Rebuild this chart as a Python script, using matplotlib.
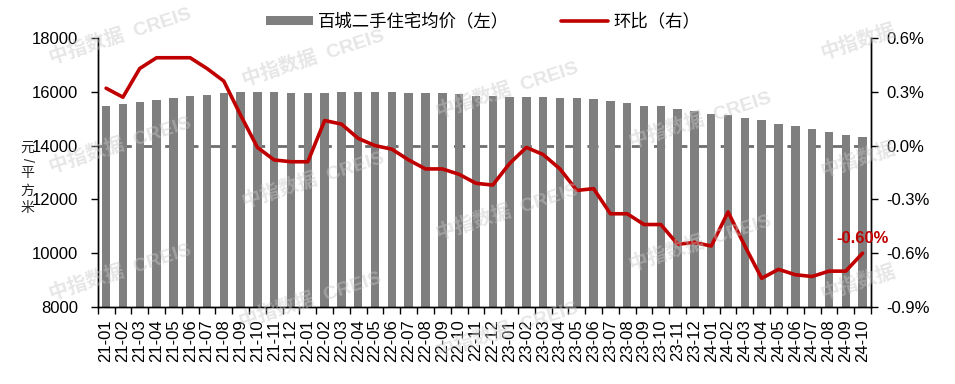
import matplotlib
matplotlib.use('Agg')
import matplotlib.pyplot as plt
from matplotlib.ticker import FuncFormatter, FixedLocator

plt.rcParams['font.family'] = ['Liberation Sans', 'Noto Sans CJK SC']
plt.rcParams['axes.unicode_minus'] = False

months = ['21-01', '21-02', '21-03', '21-04', '21-05', '21-06', '21-07', '21-08', '21-09', '21-10', '21-11', '21-12',
          '22-01', '22-02', '22-03', '22-04', '22-05', '22-06', '22-07', '22-08', '22-09', '22-10', '22-11', '22-12',
          '23-01', '23-02', '23-03', '23-04', '23-05', '23-06', '23-07', '23-08', '23-09', '23-10', '23-11', '23-12',
          '24-01', '24-02', '24-03', '24-04', '24-05', '24-06', '24-07', '24-08', '24-09', '24-10']

# 百城二手住宅均价 (元/平方米)
price = [15480, 15540, 15630, 15680, 15770, 15850, 15900, 15950, 15990, 16000, 16000, 15960,
         15960, 15960, 15990, 15990, 15990, 15990, 15960, 15960, 15960, 15910, 15860, 15860,
         15800, 15800, 15800, 15770, 15770, 15720, 15640, 15590, 15490, 15460, 15360, 15270,
         15170, 15120, 15040, 14950, 14810, 14720, 14630, 14490, 14410, 14310]

# 环比 (%)
mom = [0.32, 0.27, 0.43, 0.49, 0.49, 0.49, 0.43, 0.36, 0.17, -0.01, -0.08, -0.09,
       -0.09, 0.14, 0.12, 0.04, 0.00, -0.02, -0.08, -0.13, -0.13, -0.16, -0.21, -0.22,
       -0.10, -0.01, -0.05, -0.13, -0.25, -0.24, -0.38, -0.38, -0.44, -0.44, -0.55, -0.54,
       -0.56, -0.37, -0.56, -0.74, -0.69, -0.72, -0.73, -0.70, -0.70, -0.60]

bar_color = '#7f7f7f'
line_color = '#c00000'

fig = plt.figure(figsize=(9.55, 3.84), dpi=100)
ax = fig.add_axes([0.1023, 0.2005, 0.8097, 0.7005])
ax2 = ax.twinx()

x = range(len(months))
bars = ax.bar(x, price, width=0.5, color=bar_color, zorder=2)
ax.axhline(14000, color='#6e6e6e', lw=2, ls=(0, (4, 4)), zorder=1)
ax.set_ylim(8000, 18000)
ax.set_yticks(range(8000, 18001, 2000))
ax.set_xlim(-0.5, len(months) - 0.5)
ax.set_xticks(list(x))
ax.set_xticklabels(months, rotation=90, fontsize=12)
ax.xaxis.set_minor_locator(FixedLocator([i - 0.5 for i in range(len(months) + 1)]))
ax.tick_params(axis='x', which='major', length=0, pad=9)
ax.tick_params(axis='x', which='minor', length=5, width=1, direction='out')
ax.tick_params(axis='y', labelsize=12, length=5, width=1, direction='out', pad=9)

line, = ax2.plot(x, mom, color=line_color, lw=2.6, solid_joinstyle='round', solid_capstyle='round')
ax2.set_ylim(-0.9, 0.6)
ax2.set_yticks([-0.9, -0.6, -0.3, 0.0, 0.3, 0.6])
ax2.yaxis.set_major_formatter(FuncFormatter(lambda v, p: '%.1f%%' % v))
ax2.tick_params(axis='y', labelsize=12, length=5, width=1, direction='out', pad=6)

for a in (ax, ax2):
    a.spines['top'].set_visible(False)
    for s in ('left', 'right', 'bottom'):
        a.spines[s].set_color('black')
        a.spines[s].set_linewidth(1)

ax2.annotate('%.2f%%' % mom[-1], xy=(len(mom) - 1, mom[-1]), xytext=(0, 5),
             textcoords='offset points', ha='center', va='bottom',
             color=line_color, fontsize=12, fontweight='bold')

# y label, stacked characters
ylab_chars = ['元', '/', '平', '方', '米']
ylab_px = [148, 160, 172.5, 190.5, 208]
for ch, py in zip(ylab_chars, ylab_px):
    fig.text(27 / 955, 1 - py / 384, ch, ha='center', va='center', fontsize=10,
             rotation=-90 if ch == '/' else 0, color='#222222')

fig.legend([bars, line], ['百城二手住宅均价（左）', '环比（右）'], loc='center',
           bbox_to_anchor=(0.506, 0.945), ncol=2, frameon=False, fontsize=12.5,
           handlelength=2.7, handleheight=0.45, handletextpad=0.3, columnspacing=3.0)

# watermarks
wm_full = [(120, 36), (120, 145), (120, 272), (313, 58), (313, 180), (310, 300),
           (507, 90), (507, 212), (507, 330), (700, 120), (700, 243)]
wm_short = [(858, 42), (858, 160), (858, 283)]
for px, py in wm_full:
    fig.text(px / 955, 1 - py / 384, '中指数据  CREIS', ha='center', va='center', rotation=18,
             fontsize=14, fontweight='bold', color='#c8c8c8', alpha=0.45, zorder=10)
for px, py in wm_short:
    fig.text(px / 955, 1 - py / 384, '中指数据', ha='center', va='center', rotation=18,
             fontsize=14, fontweight='bold', color='#c8c8c8', alpha=0.45, zorder=10)

fig.savefig('out.png', dpi=100)
